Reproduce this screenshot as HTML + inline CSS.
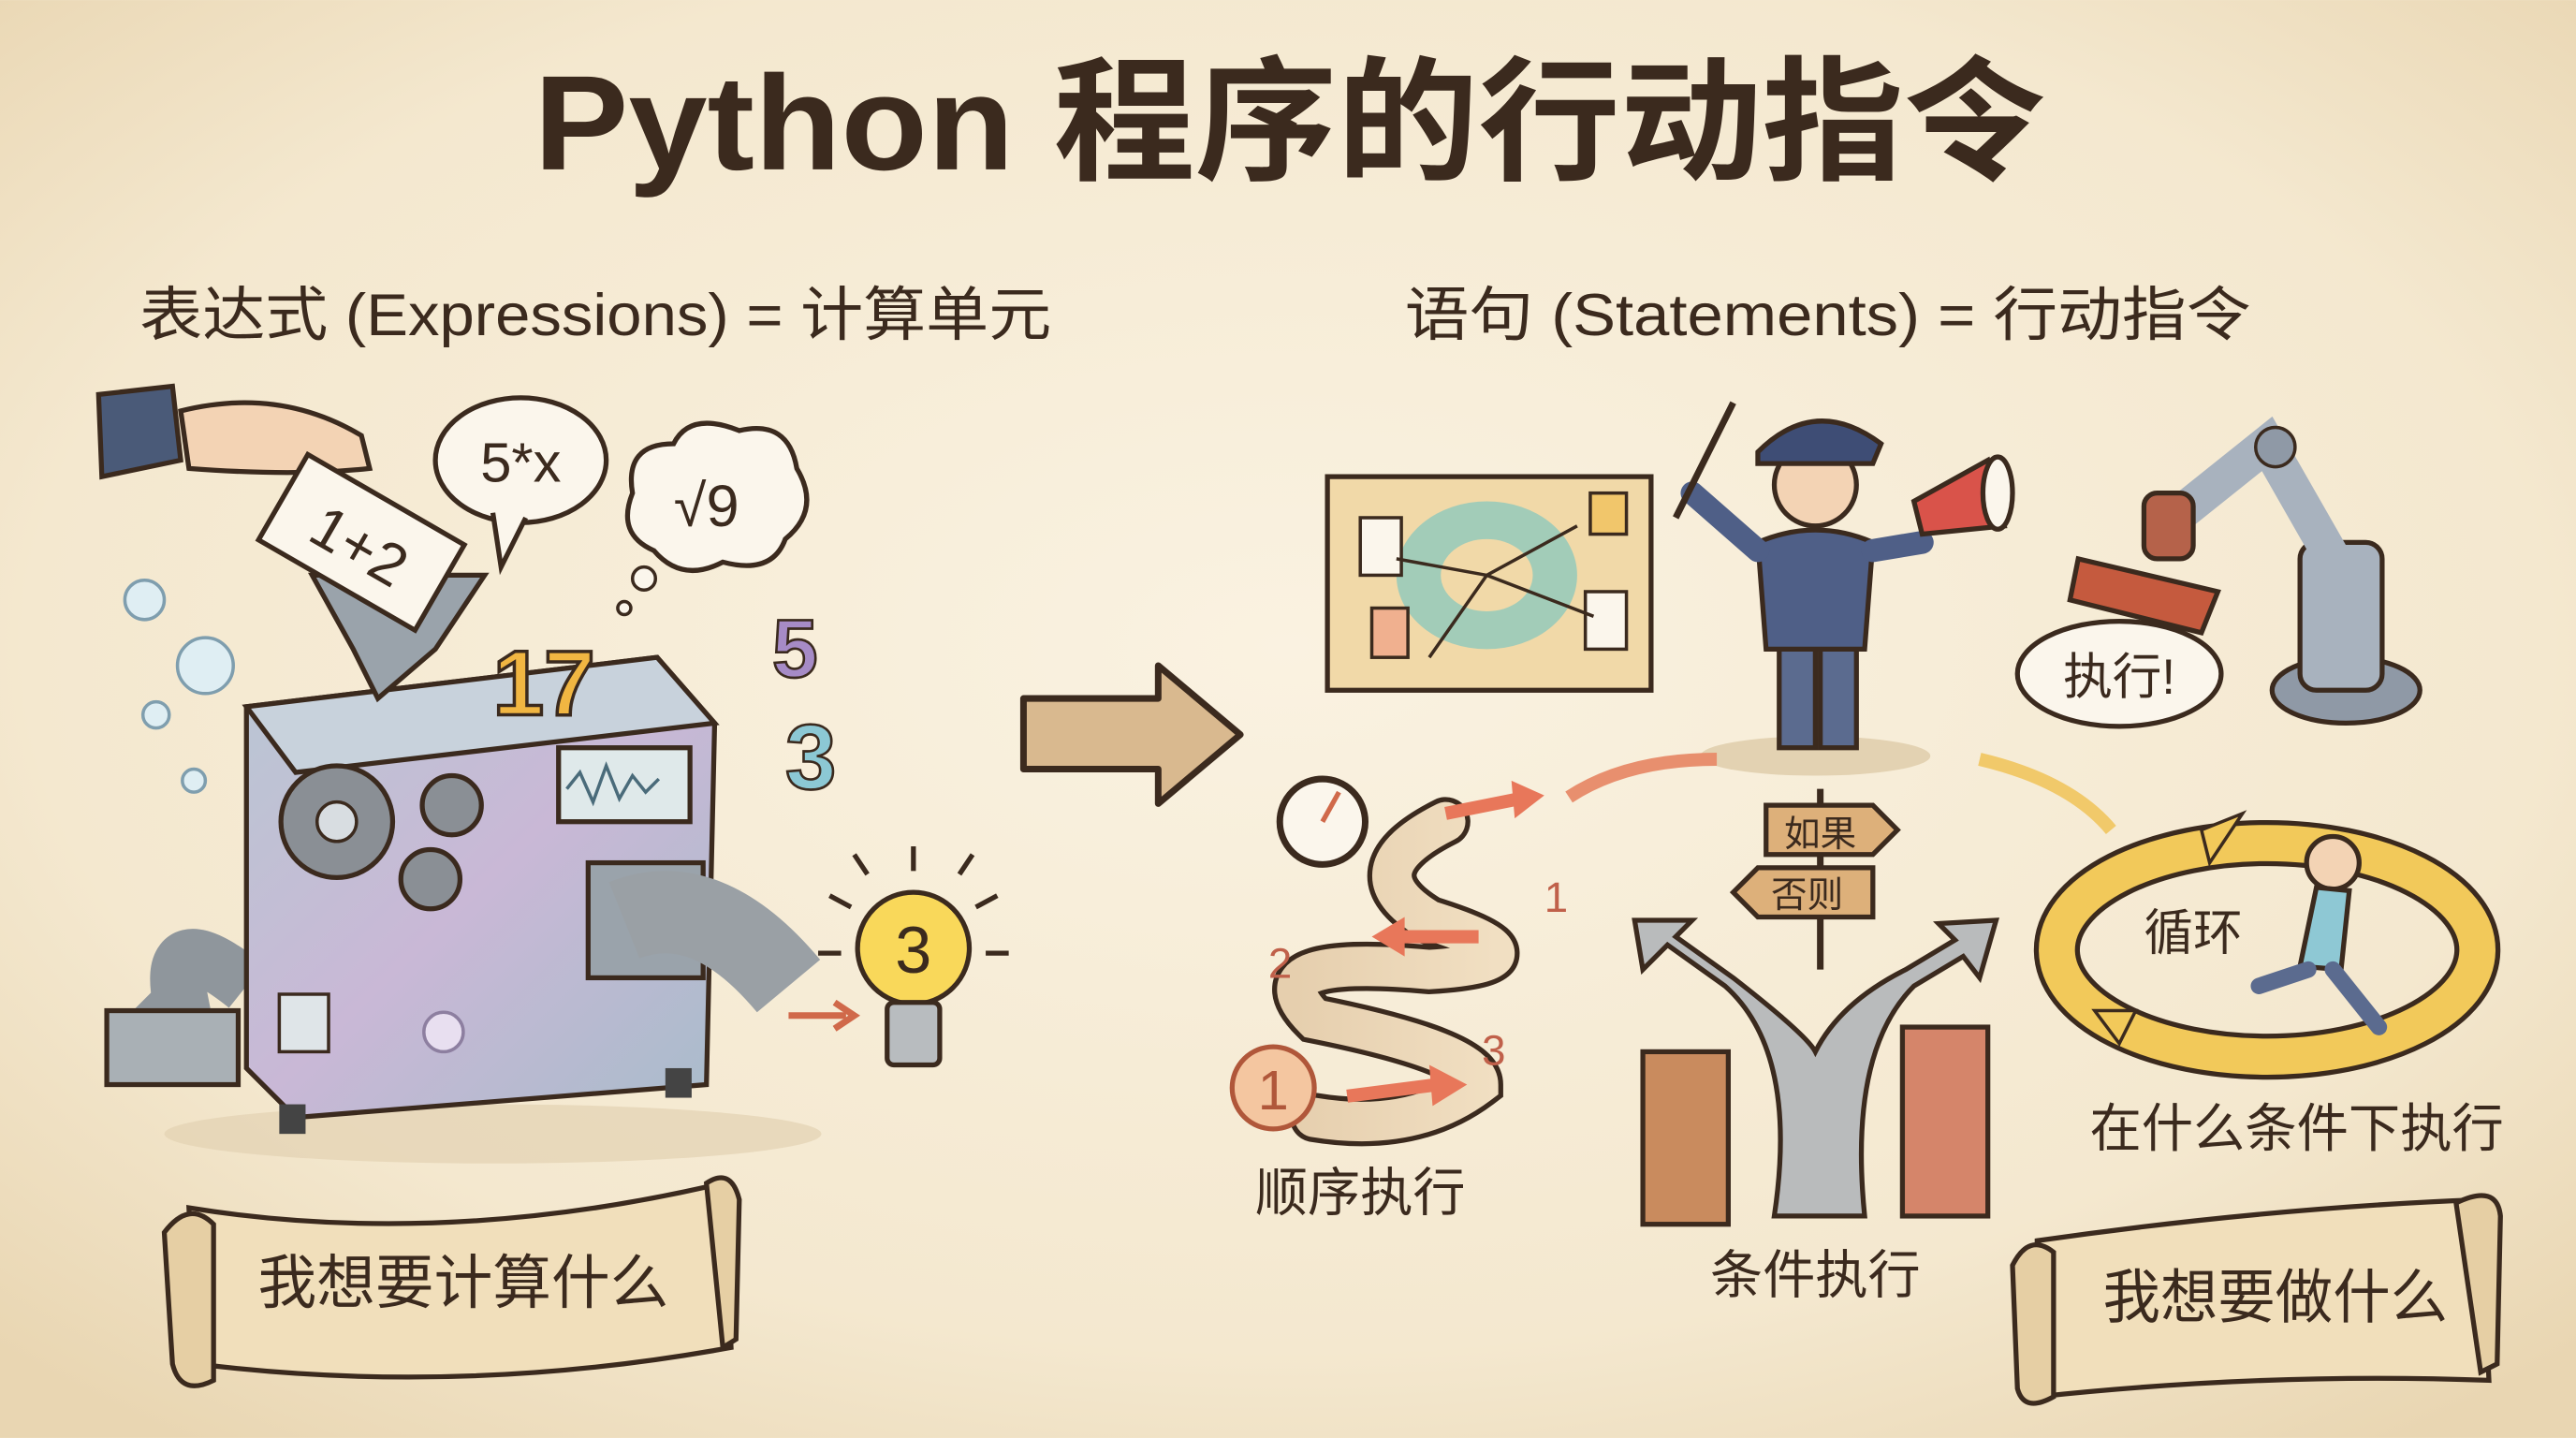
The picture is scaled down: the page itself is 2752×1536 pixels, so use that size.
<!DOCTYPE html>
<html><head><meta charset="utf-8">
<style>
html,body{margin:0;padding:0;background:#f5ead4;}
svg{display:block}
text{font-family:"Liberation Sans","Noto Sans CJK SC",sans-serif;fill:#3b2a1e}
</style></head>
<body>
<svg width="2752" height="1536" viewBox="0 0 1568 875" xmlns="http://www.w3.org/2000/svg">
<defs>
<radialGradient id="bg" cx="50%" cy="45%" r="70%">
<stop offset="0" stop-color="#faf2e1"/><stop offset="0.7" stop-color="#f4e8cf"/><stop offset="1" stop-color="#e9d6b2"/>
</radialGradient>
<linearGradient id="mach" x1="0" y1="0" x2="1" y2="1">
<stop offset="0" stop-color="#b9c7d3"/><stop offset="0.5" stop-color="#c9b8d6"/><stop offset="1" stop-color="#a8bccb"/>
</linearGradient>
<linearGradient id="road" x1="0" y1="0" x2="1" y2="0">
<stop offset="0" stop-color="#e6cfae"/><stop offset="1" stop-color="#f1dfc2"/>
</linearGradient>
</defs>
<rect width="1568" height="875" fill="url(#bg)"/>

<!-- Title -->
<text x="785" y="103" font-size="82" font-weight="bold" text-anchor="middle" textLength="920" lengthAdjust="spacingAndGlyphs">Python 程序的行动指令</text>
<text x="85" y="204" font-size="36" textLength="555" lengthAdjust="spacingAndGlyphs">表达式 (Expressions) = 计算单元</text>
<text x="855" y="204" font-size="36" textLength="515" lengthAdjust="spacingAndGlyphs">语句 (Statements) = 行动指令</text>

<!-- big arrow -->
<path d="M623 425 L705 425 L705 405 L755 447 L705 489 L705 468 L623 468 Z" fill="#d9b98f" stroke="#3b2a1e" stroke-width="4" stroke-linejoin="round"/>

<!-- LEFT: machine -->
<ellipse cx="300" cy="690" rx="200" ry="18" fill="#e3d2b2" opacity="0.7"/>
<path d="M150 600 Q100 560 110 610 L90 630" fill="none" stroke="#8f969c" stroke-width="34"/>
<rect x="65" y="615" width="80" height="45" fill="#a9b0b5" stroke="#3b2a1e" stroke-width="3"/>
<path d="M150 430 L400 400 L435 440 L430 660 L180 680 L150 650 Z" fill="url(#mach)" stroke="#3b2a1e" stroke-width="3"/>
<path d="M400 400 L435 440 L180 470 L150 430 Z" fill="#c8d2dc" stroke="#3b2a1e" stroke-width="3"/>
<rect x="170" y="672" width="16" height="18" fill="#444"/><rect x="405" y="650" width="16" height="18" fill="#444"/>
<path d="M190 350 L295 350 L265 395 L230 425 L215 395 Z" fill="#9aa3ab" stroke="#3b2a1e" stroke-width="3"/>
<circle cx="205" cy="500" r="34" fill="#8a8f95" stroke="#3b2a1e" stroke-width="3"/><circle cx="205" cy="500" r="12" fill="#d8dde1" stroke="#3b2a1e" stroke-width="2"/>
<circle cx="275" cy="490" r="18" fill="#8a8f95" stroke="#3b2a1e" stroke-width="3"/>
<circle cx="262" cy="535" r="18" fill="#8a8f95" stroke="#3b2a1e" stroke-width="3"/>
<rect x="340" y="455" width="80" height="45" fill="#dfe9ea" stroke="#3b2a1e" stroke-width="3"/>
<path d="M345 480 l8 -10 l8 18 l8 -22 l8 20 l8 -14 l8 10 l8 -8" fill="none" stroke="#4a6b7a" stroke-width="2"/>
<rect x="358" y="525" width="70" height="70" fill="#9aa3ab" stroke="#3b2a1e" stroke-width="3"/>
<path d="M380 560 Q430 540 480 600" fill="none" stroke="#9aa0a5" stroke-width="50"/>
<path d="M480 618 L515 618" stroke="#d0694a" stroke-width="4"/><path d="M508 610 L520 618 L508 626" fill="none" stroke="#d0694a" stroke-width="4"/>
<rect x="170" y="605" width="30" height="35" fill="#dfe5e8" stroke="#3b2a1e" stroke-width="2"/>
<circle cx="270" cy="628" r="12" fill="#e8dff0" stroke="#8d7fa0" stroke-width="2"/>
<text x="300" y="435" font-size="56" font-weight="bold" fill="#f1b642" style="fill:#f1b642" stroke="#3b2a1e" stroke-width="2">17</text>
<!-- bubbles -->
<circle cx="88" cy="365" r="12" fill="#dfeef3" stroke="#7f9eae" stroke-width="2"/>
<circle cx="125" cy="405" r="17" fill="#dfeef3" stroke="#7f9eae" stroke-width="2"/>
<circle cx="95" cy="435" r="8" fill="#dfeef3" stroke="#7f9eae" stroke-width="2"/>
<circle cx="118" cy="475" r="7" fill="#dfeef3" stroke="#7f9eae" stroke-width="2"/>
<!-- hand + card -->
<path d="M60 240 L105 235 L110 280 L62 290 Z" fill="#4a5a78" stroke="#3b2a1e" stroke-width="3"/>
<path d="M110 250 Q170 235 220 265 L225 285 Q180 290 115 285 Z" fill="#f3d3b4" stroke="#3b2a1e" stroke-width="3"/>
<g transform="rotate(30 220 330)"><rect x="165" y="300" width="110" height="60" fill="#fbf6ec" stroke="#3b2a1e" stroke-width="3"/>
<text x="220" y="345" font-size="36" text-anchor="middle">1+2</text></g>
<!-- speech bubble -->
<ellipse cx="317" cy="280" rx="52" ry="38" fill="#fbf6ec" stroke="#3b2a1e" stroke-width="3"/>
<path d="M300 312 L305 345 L320 315" fill="#fbf6ec" stroke="#3b2a1e" stroke-width="3"/>
<text x="317" y="293" font-size="34" text-anchor="middle">5*x</text>
<!-- thought bubble -->
<path d="M385 300 Q380 270 410 270 Q420 250 450 262 Q480 255 485 285 Q500 310 478 328 Q470 350 440 342 Q415 355 398 335 Q375 325 385 300 Z" fill="#fbf6ec" stroke="#3b2a1e" stroke-width="3"/>
<circle cx="392" cy="352" r="7" fill="#fbf6ec" stroke="#3b2a1e" stroke-width="2"/><circle cx="380" cy="370" r="4" fill="#fbf6ec" stroke="#3b2a1e" stroke-width="2"/>
<text x="430" y="320" font-size="36" text-anchor="middle">√9</text>
<text x="470" y="412" font-size="50" font-weight="bold" style="fill:#a68bc6" stroke="#3b2a1e" stroke-width="1.5">5</text>
<text x="478" y="480" font-size="56" font-weight="bold" style="fill:#8cc8d4" stroke="#3b2a1e" stroke-width="1.5">3</text>
<!-- bulb -->
<circle cx="556" cy="577" r="34" fill="#f9d85a" stroke="#3b2a1e" stroke-width="3"/>
<rect x="540" y="610" width="32" height="38" rx="4" fill="#b8bcbf" stroke="#3b2a1e" stroke-width="3"/>
<text x="556" y="592" font-size="40" text-anchor="middle">3</text>
<g stroke="#3b2a1e" stroke-width="3"><line x1="556" y1="515" x2="556" y2="530"/><line x1="505" y1="545" x2="518" y2="552"/><line x1="607" y1="545" x2="594" y2="552"/><line x1="498" y1="580" x2="512" y2="580"/><line x1="614" y1="580" x2="600" y2="580"/><line x1="520" y1="520" x2="528" y2="532"/><line x1="592" y1="520" x2="584" y2="532"/></g>

<!-- LEFT scroll -->
<path d="M115 735 Q270 760 440 720 L445 820 Q280 850 120 830 Z" fill="#f1dfbb" stroke="#3b2a1e" stroke-width="3"/>
<path d="M100 750 Q115 730 130 745 L130 840 Q110 850 105 830 Z" fill="#e6cfa4" stroke="#3b2a1e" stroke-width="3"/>
<path d="M430 720 Q445 710 450 730 L448 815 L440 820 Z" fill="#e6cfa4" stroke="#3b2a1e" stroke-width="3"/>
<text x="282" y="793" font-size="36" text-anchor="middle" textLength="250" lengthAdjust="spacingAndGlyphs">我想要计算什么</text>

<!-- RIGHT: map board -->
<rect x="808" y="290" width="197" height="130" fill="#f1d9a8" stroke="#3b2a1e" stroke-width="3"/>
<ellipse cx="905" cy="350" rx="55" ry="45" fill="#8ec8bc" opacity="0.8"/>
<ellipse cx="905" cy="350" rx="28" ry="22" fill="#f1d9a8"/>
<rect x="828" y="315" width="25" height="35" fill="#fbf6ec" stroke="#3b2a1e" stroke-width="2"/>
<rect x="965" y="360" width="25" height="35" fill="#fbf6ec" stroke="#3b2a1e" stroke-width="2"/>
<rect x="835" y="370" width="22" height="30" fill="#f0b08f" stroke="#3b2a1e" stroke-width="2"/>
<rect x="968" y="300" width="22" height="25" fill="#f1c66b" stroke="#3b2a1e" stroke-width="2"/>
<path d="M850 340 L905 350 L870 400 M905 350 L970 375 M905 350 L960 320" fill="none" stroke="#3b2a1e" stroke-width="2"/>

<!-- conductor -->
<ellipse cx="1105" cy="460" rx="70" ry="12" fill="#e3d2b2"/>
<rect x="1083" y="390" width="22" height="65" fill="#5b6b8f" stroke="#3b2a1e" stroke-width="3"/>
<rect x="1108" y="390" width="22" height="65" fill="#5b6b8f" stroke="#3b2a1e" stroke-width="3"/>
<path d="M1070 330 Q1105 315 1140 330 L1135 395 L1075 395 Z" fill="#4f5f87" stroke="#3b2a1e" stroke-width="3"/>
<path d="M1070 335 L1030 300 M1140 335 L1170 330" stroke="#4f5f87" stroke-width="14" stroke-linecap="round"/>
<line x1="1020" y1="315" x2="1055" y2="245" stroke="#3b2a1e" stroke-width="4"/>
<circle cx="1105" cy="295" r="25" fill="#f3d3b4" stroke="#3b2a1e" stroke-width="3"/>
<path d="M1070 275 Q1105 240 1145 270 L1140 282 L1070 282 Z" fill="#3e4d75" stroke="#3b2a1e" stroke-width="3"/>
<path d="M1165 305 L1210 280 L1220 320 L1170 325 Z" fill="#d9534a" stroke="#3b2a1e" stroke-width="3"/>
<ellipse cx="1216" cy="300" rx="9" ry="22" fill="#fbf6ec" stroke="#3b2a1e" stroke-width="3"/>

<!-- robot arm -->
<ellipse cx="1428" cy="420" rx="45" ry="20" fill="#8f99a6" stroke="#3b2a1e" stroke-width="3"/>
<rect x="1400" y="330" width="50" height="90" rx="10" fill="#a8b2be" stroke="#3b2a1e" stroke-width="3"/>
<path d="M1420 340 L1380 270 L1330 310" fill="none" stroke="#a8b2be" stroke-width="22" stroke-linecap="round"/>
<circle cx="1385" cy="272" r="12" fill="#8f99a6" stroke="#3b2a1e" stroke-width="2"/>
<rect x="1305" y="300" width="30" height="40" rx="8" fill="#b5624a" stroke="#3b2a1e" stroke-width="3"/>
<path d="M1265 340 L1350 360 L1340 385 L1260 365 Z" fill="#c55a3e" stroke="#3b2a1e" stroke-width="3"/>
<ellipse cx="1290" cy="410" rx="62" ry="32" fill="#fbf6ec" stroke="#3b2a1e" stroke-width="3"/>
<text x="1290" y="422" font-size="30" text-anchor="middle">执行!</text>

<!-- arcs from conductor -->
<path d="M1045 462 Q990 462 955 485" fill="none" stroke="#e88f6e" stroke-width="8"/>
<path d="M1205 462 Q1260 475 1285 505" fill="none" stroke="#f1c96a" stroke-width="8"/>

<!-- sequence road -->
<circle cx="805" cy="500" r="26" fill="#fbf6ec" stroke="#3b2a1e" stroke-width="4"/>
<line x1="805" y1="500" x2="815" y2="482" stroke="#d0694a" stroke-width="3"/>
<path d="M880 500 Q820 530 870 560 Q950 585 870 590 Q760 580 800 620 Q900 640 900 660 Q860 690 800 680" fill="none" stroke="#3b2a1e" stroke-width="30" stroke-linecap="round"/>
<path d="M880 500 Q820 530 870 560 Q950 585 870 590 Q760 580 800 620 Q900 640 900 660 Q860 690 800 680" fill="none" stroke="url(#road)" stroke-width="24" stroke-linecap="round"/>
<path d="M880 495 L930 485" stroke="#e8775a" stroke-width="8"/><path d="M920 475 L940 484 L922 498" fill="#e8775a"/>
<path d="M900 570 L850 570" stroke="#e8775a" stroke-width="8"/><path d="M855 558 L835 570 L855 582" fill="#e8775a"/>
<path d="M820 667 L875 660" stroke="#e8775a" stroke-width="8"/><path d="M870 648 L893 660 L872 673" fill="#e8775a"/>
<circle cx="775" cy="662" r="25" fill="#f4c6a0" stroke="#b0573a" stroke-width="3"/>
<text x="775" y="675" font-size="34" text-anchor="middle" style="fill:#b0573a">1</text>
<text x="940" y="555" font-size="26" style="fill:#c0604a">1</text>
<text x="772" y="595" font-size="26" style="fill:#c0604a">2</text>
<text x="902" y="648" font-size="26" style="fill:#c0604a">3</text>
<text x="828" y="737" font-size="32" text-anchor="middle">顺序执行</text>

<!-- fork -->
<path d="M1080 740 Q1095 640 1050 600 L1015 575 L1000 590 L995 560 L1030 560 L1020 570 L1055 595 Q1100 630 1105 640 Q1120 610 1160 590 L1190 572 L1180 562 L1215 560 L1205 595 L1195 582 L1165 600 Q1125 640 1135 740 Z" fill="#b9bbbc" stroke="#3b2a1e" stroke-width="3"/>
<rect x="1000" y="640" width="52" height="105" fill="#c98b5e" stroke="#3b2a1e" stroke-width="3"/>
<rect x="1158" y="625" width="52" height="115" fill="#d5856a" stroke="#3b2a1e" stroke-width="3"/>
<line x1="1108" y1="480" x2="1108" y2="590" stroke="#3b2a1e" stroke-width="4"/>
<path d="M1075 490 L1140 490 L1155 505 L1140 520 L1075 520 Z" fill="#ddb07a" stroke="#3b2a1e" stroke-width="3"/>
<path d="M1070 528 L1140 528 L1140 558 L1070 558 L1055 543 Z" fill="#ddb07a" stroke="#3b2a1e" stroke-width="3"/>
<text x="1108" y="515" font-size="22" text-anchor="middle">如果</text>
<text x="1100" y="552" font-size="22" text-anchor="middle">否则</text>
<text x="1105" y="787" font-size="32" text-anchor="middle">条件执行</text>

<!-- loop -->
<ellipse cx="1380" cy="578" rx="128" ry="65" fill="none" stroke="#3b2a1e" stroke-width="28"/>
<ellipse cx="1380" cy="578" rx="128" ry="65" fill="none" stroke="#f2c95a" stroke-width="22"/>
<path d="M1340 505 L1365 495 L1345 525 Z" fill="#f2c95a" stroke="#3b2a1e" stroke-width="2"/>
<path d="M1290 635 L1275 615 L1300 615 Z" fill="#f2c95a" stroke="#3b2a1e" stroke-width="2"/>
<circle cx="1420" cy="525" r="16" fill="#f3d3b4" stroke="#3b2a1e" stroke-width="3"/>
<path d="M1410 540 L1430 542 L1425 590 L1400 588 Z" fill="#8ec8d4" stroke="#3b2a1e" stroke-width="3"/>
<path d="M1405 590 L1375 600 M1420 590 L1448 625" stroke="#5b6b8f" stroke-width="10" stroke-linecap="round"/>
<text x="1335" y="578" font-size="30" text-anchor="middle">循环</text>
<text x="1398" y="698" font-size="32" text-anchor="middle" textLength="252" lengthAdjust="spacingAndGlyphs">在什么条件下执行</text>

<!-- RIGHT scroll -->
<path d="M1240 755 Q1380 735 1510 730 L1515 840 Q1380 835 1240 850 Z" fill="#f1dfbb" stroke="#3b2a1e" stroke-width="3"/>
<path d="M1225 770 Q1235 750 1250 762 L1250 850 Q1232 860 1228 845 Z" fill="#e6cfa4" stroke="#3b2a1e" stroke-width="3"/>
<path d="M1495 732 Q1520 720 1522 740 L1520 830 L1510 835 Z" fill="#e6cfa4" stroke="#3b2a1e" stroke-width="3"/>
<text x="1385" y="802" font-size="36" text-anchor="middle" textLength="210" lengthAdjust="spacingAndGlyphs">我想要做什么</text>
</svg>
</body></html>
